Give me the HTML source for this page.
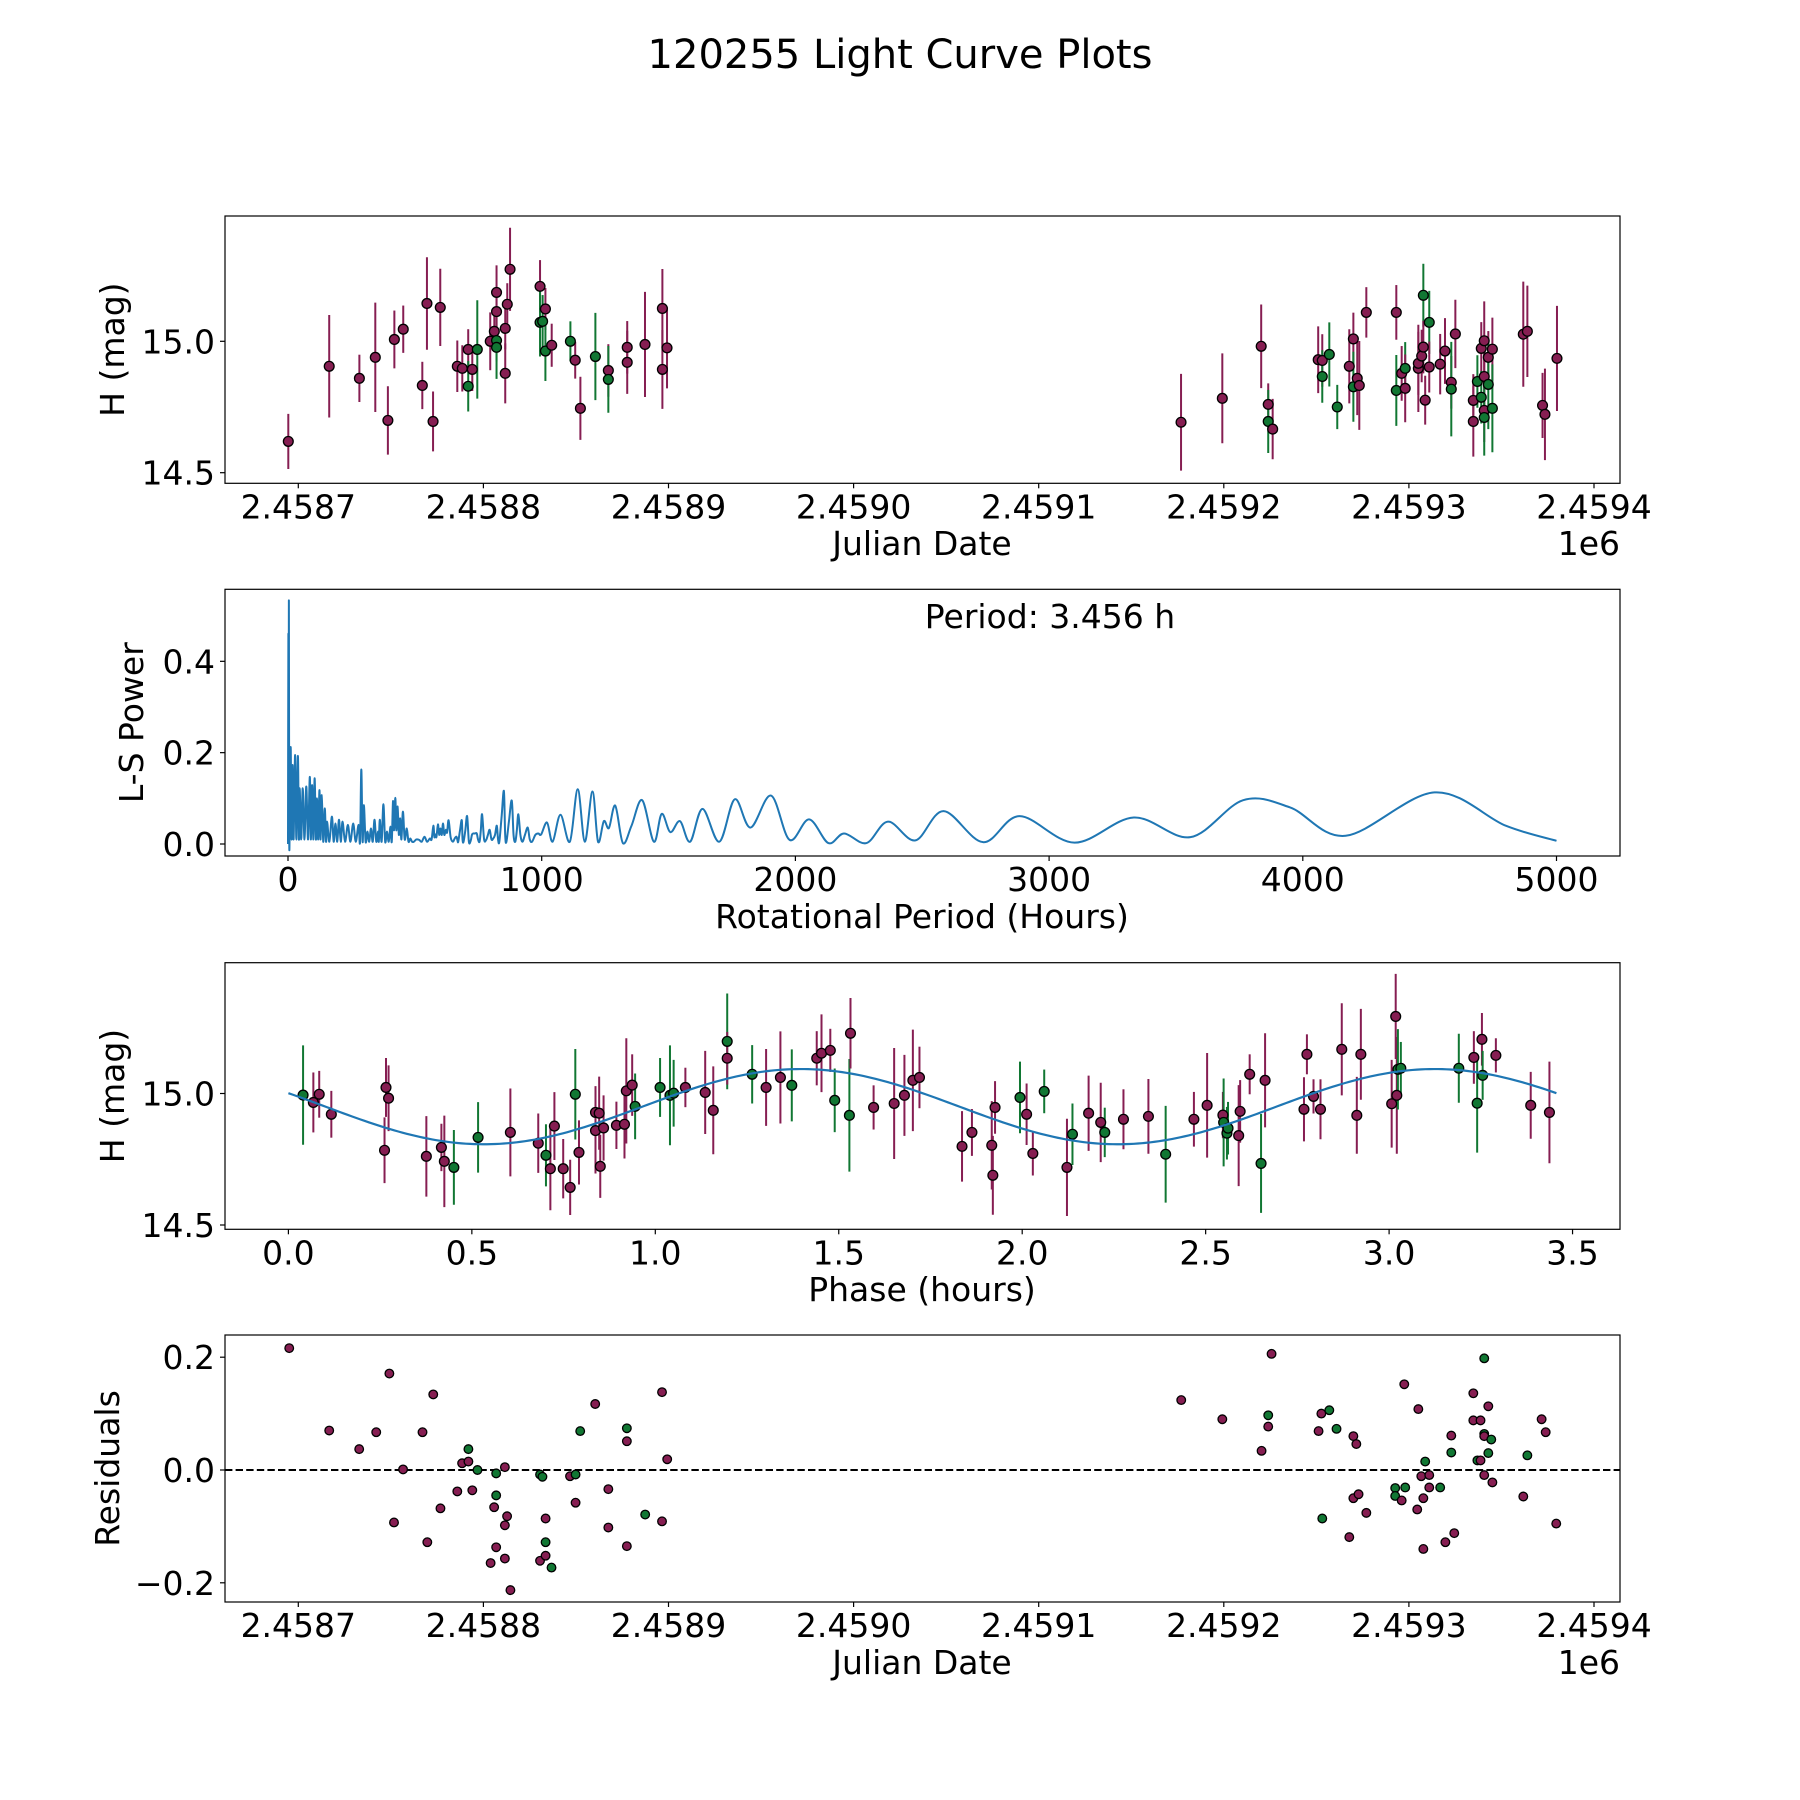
<!DOCTYPE html>
<html><head><meta charset="utf-8"><style>
html,body{margin:0;padding:0;background:#fff}
svg{display:block}
text{font-family:"DejaVu Sans","Liberation Sans",sans-serif;fill:#000}
</style></head><body>
<svg id="fig" width="1800" height="1800" viewBox="0 0 1800 1800" xmlns="http://www.w3.org/2000/svg">
<rect width="1800" height="1800" fill="#fff"/>
<text x="900" y="68" font-size="40" text-anchor="middle">120255 Light Curve Plots</text>
</svg>
<script>
// ---------- DATA ----------
const JD0 = 2458700;
// Panel 1: light curve (days since JD0, H mag, error, band)
const lcDays = [-5.4,16.7,33.0,41.6,48.4,51.9,56.7,67.0,69.5,72.8,76.7,85.9,88.6,91.8,91.8,94.0,96.7,103.7,105.9,107.1,107.1,107.1,107.1,111.8,111.8,112.9,114.4,130.6,130.6,132.0,133.5,133.5,136.9,147.0,149.6,152.4,160.5,167.5,167.5,177.7,177.7,187.3,196.7,196.7,199.2,
476.9,499.2,520.2,524.0,524.0,526.4,551.0,553.2,553.2,557.0,561.3,567.8,570.0,570.0,572.1,573.2,577.0,593.2,593.2,596.1,598.0,598.0,605.1,605.1,606.9,607.8,607.8,608.8,611.0,611.0,616.9,619.5,622.9,622.9,625.1,634.8,634.8,637.0,639.1,639.1,640.7,640.7,640.7,640.7,642.9,642.9,645.1,645.1,661.8,664.0,672.2,673.5,680.0];
const lcMags = [14.619,14.905,14.859,14.939,14.699,15.007,15.046,14.832,15.144,14.695,15.129,14.905,14.897,14.969,14.829,14.893,14.969,15.0,15.038,15.003,14.977,15.186,15.113,15.049,14.878,15.141,15.274,15.209,15.072,15.076,15.123,14.963,14.985,15.0,14.928,14.745,14.942,14.889,14.855,14.977,14.92,14.988,15.125,14.893,14.975,
14.692,14.783,14.981,14.76,14.695,14.666,14.93,14.927,14.866,14.95,14.75,14.905,15.009,14.827,14.859,14.832,15.11,15.11,14.813,14.878,14.897,14.821,14.897,14.916,14.944,15.175,14.978,14.776,15.072,14.902,14.913,14.963,14.844,14.818,15.028,14.775,14.695,14.847,14.973,14.787,15.002,14.866,14.737,14.71,14.939,14.836,14.97,14.745,15.027,15.038,14.756,14.722,14.935];
const lcErrs = [.105,.195,.09,.208,.13,.11,.09,.09,.176,.114,.147,.098,.088,.077,.096,.082,.187,.11,.06,.08,.12,.103,.09,.08,.114,.08,.158,.1,.13,.1,.08,.114,.082,.076,.07,.12,.166,.1,.127,.1,.12,.2,.15,.15,.154,
.184,.171,.159,.08,.12,.115,.127,.1,.1,.122,.084,.141,.1,.133,.14,.169,.096,.104,.135,.104,.1,.129,.166,.12,.1,.12,.1,.093,.12,.097,.115,.125,.1,.18,.13,.1,.134,.1,.1,.1,.15,.12,.12,.145,.1,.17,.12,.167,.2,.174,.124,.174,.2];
const lcBands = "mmmmmmmmmmmmmmgmgmmggmmmmmmmggmgmgmmgmgmmmmmm".slice(0,45) + "mmmmgmmmgggmmgmmmmgmgmmmmgmmgmmmmgmmmgmgmmmgmgmgmmmmmm".slice(0,53);
// Panel 2: Lomb-Scargle periodogram
const lsPeriods = [0,1.5,2.5,3.456,5,8,11,14,18,22,28,33,39,43,46,52,58,65,72,79,86,90,95,100,105,110,114,119,124,128,133,139,145,150,154,163,173,180,187,194,201,208,215,225,236,246,257,267,278,284,289,294,299,306,313,320,327,334,341,348,355,358,362,369,376,383,390,397,404,409,414,418,423,427,432,437,442,447,453,460,468,475,482,489,496,506,517,527,538,548,559,566,573,577,580,585,591,596,601,606,611,616,622,627,633,641,650,657,664,668,671,678,685,688,692,699,706,713,720,725,730,737,744,749,755,760,765,773,781,788,795,802,809,816,823,828,833,842,851,856,861,871,882,889,896,902,908,916,924,934,945,953,962,975,987,998,1021,1043,1074,1111,1142,1170,1200,1222,1245,1265,1290,1320,1354,1396,1442,1473,1507,1545,1585,1634,1700,1761,1823,1904,1977,2054,2130,2192,2280,2365,2473,2584,2740,2884,3100,3334,3557,3765,3950,4169,4519,4800,5000];
const lsPowers = [0,.46,.1,.533,0,.15,.206,.01,.173,.01,.195,.01,.193,.01,.122,.01,.122,.01,.126,.01,.147,.01,.129,.01,.144,.01,.1,.01,.118,.01,.107,.005,.078,.005,.049,.005,.06,.005,.045,.005,.053,.005,.049,.005,.042,.005,.045,.005,.042,.005,.163,.005,.085,.005,.027,.005,.034,.005,.053,.005,.027,.005,.053,.005,.087,.005,.027,.005,.038,.005,.094,.03,.101,.03,.082,.02,.056,.01,.071,.01,.034,.005,.012,.005,.005,.01,.009,.005,.016,.005,.012,.01,.04,.015,.021,.015,.043,.02,.034,.02,.045,.02,.031,.025,.052,.015,.005,.012,.016,.008,.005,.03,.052,.01,.005,.03,.061,.005,.007,.02,.023,.023,.023,.01,.005,.03,.065,.01,.009,.02,.031,.01,.012,.02,.04,.01,.005,.06,.116,.02,.005,.05,.095,.02,.005,.03,.065,.02,.005,.02,.036,.01,.005,.02,.023,.021,.047,.005,.064,.005,.12,.005,.115,.005,.05,.035,.084,.002,.04,.096,.005,.066,.026,.05,.005,.077,.005,.098,.036,.106,.009,.054,.002,.023,.002,.049,.008,.072,.004,.061,.003,.058,.015,.096,.08,.018,.113,.04,.007];
const bestPeriodLabel = "Period: 3.456 h";
// Panel 3: phased light curve
const phPhase = [.040,.068,.084,.117,.262,.266,.273,.376,.417,.425,.451,.517,.605,.681,.702,.714,.725,.749,.768,.782,.792,.837,.837,.847,.850,.859,.894,.916,.921,.937,.945,1.013,1.040,1.050,1.082,1.136,1.158,1.196,1.196,1.264,1.302,1.341,1.372,1.440,1.453,1.477,1.489,1.529,1.532,1.595,1.651,1.679,1.702,1.720,
1.836,1.863,1.917,1.920,1.926,1.994,2.012,2.029,2.060,2.122,2.137,2.181,2.214,2.225,2.276,2.344,2.391,2.468,2.504,2.547,2.549,2.558,2.561,2.590,2.594,2.620,2.651,2.662,2.768,2.776,2.794,2.813,2.871,2.912,2.923,3.007,3.018,3.021,3.024,3.032,3.190,3.231,3.240,3.253,3.255,3.291,3.386,3.437];
const phMags = [14.994,14.966,14.997,14.921,14.784,15.023,14.982,14.761,14.795,14.742,14.719,14.833,14.852,14.811,14.765,14.714,14.876,14.714,14.643,14.997,14.776,14.859,14.928,14.925,14.723,14.869,14.879,14.883,15.01,15.032,14.951,15.023,14.993,15.001,15.023,15.004,14.936,15.198,15.134,15.073,15.023,15.061,15.031,15.134,15.153,15.164,14.974,14.917,15.229,14.947,14.962,14.993,15.05,15.061,
14.799,14.852,14.803,14.689,14.947,14.985,14.921,14.772,15.008,14.719,14.845,14.925,14.89,14.852,14.902,14.913,14.769,14.902,14.955,14.918,14.89,14.849,14.868,14.84,14.932,15.073,14.734,15.05,14.94,15.149,14.989,14.94,15.168,14.917,15.149,14.961,15.293,14.993,15.092,15.096,15.096,15.137,14.963,15.206,15.069,15.145,14.955,14.928];
const phErrs = [.189,.114,.089,.089,.125,.112,.125,.153,.09,.174,.142,.134,.167,.113,.118,.158,.129,.113,.105,.172,.122,.163,.1,.139,.12,.124,.09,.13,.2,.117,.125,.112,.19,.127,.075,.158,.167,.182,.1,.111,.146,.175,.137,.103,.148,.082,.121,.214,.134,.084,.211,.154,.193,.117,
.134,.089,.168,.15,.1,.136,.117,.084,.083,.185,.117,.143,.151,.094,.114,.142,.184,.104,.199,.088,.167,.1,.1,.192,.119,.076,.188,.179,.122,.076,.065,.114,.175,.146,.173,.167,.162,.222,.153,.1,.131,.1,.188,.1,.093,.065,.127,.193];
const phBands = "gmmmmmmmmmggmmgmmmmgmmmmmmmmmmggggmmmgmgmmgmmmggmmmmmm" + "mmmmmgmmgmgmmgmmgmmmgggmmmgmmmmmmmmmmmgggmgmgmmmmm";
// Fitted model (two-peaked sinusoid)
const fitMean = 14.95, fitAmp = 0.143, fitHalfPeriod = 1.728, fitPeakPhase = 1.397, fitSpan = 3.456;
// Panel 4: residuals
const resDays = [-4.9,16.7,32.9,42.1,49.2,51.7,56.6,67.1,69.7,72.9,76.8,85.9,88.5,91.9,91.9,94.0,96.8,103.9,105.8,106.9,106.9,106.9,111.6,111.6,111.6,112.8,114.6,130.6,130.6,131.9,133.6,133.6,133.6,136.8,146.8,149.8,149.8,152.3,160.4,167.5,167.5,177.5,177.5,177.5,187.4,196.5,196.5,199.3,
477.0,499.2,520.4,524.0,524.0,525.8,551.2,552.7,553.2,557.0,560.9,567.8,570.0,570.0,571.6,572.8,577.0,592.6,592.6,596.1,597.5,598.0,604.5,605.1,606.7,607.8,607.8,608.8,611.0,611.0,616.9,619.7,622.9,622.9,624.5,634.8,634.8,637.0,638.7,638.7,640.7,640.7,640.7,640.7,642.9,642.9,644.5,645.1,661.8,664.0,671.7,673.9,679.6];
const resVals = [.216,.070,.037,.067,.171,-.093,.001,.067,-.128,.134,-.068,-.038,.012,.015,.037,-.036,0,-.165,-.066,-.045,-.137,-.006,.005,-.098,-.157,-.082,-.213,-.008,-.161,-.012,-.086,-.128,-.152,-.173,-.011,-.008,-.058,.069,.117,-.034,-.102,.074,.051,-.135,-.079,.138,-.091,.019,
.124,.090,.034,.097,.077,.206,.069,.10,-.086,.106,.073,-.119,.060,-.050,.046,-.043,-.076,-.032,-.046,-.054,.152,-.031,-.070,.108,-.011,-.050,-.140,.015,-.009,-.031,-.031,-.128,.061,.031,-.112,.136,.088,.017,.088,.017,.198,.064,.060,-.009,.113,.030,.054,-.022,-.047,.026,.090,.067,-.095];
const resBands = "mmmmmmmmmmmmmmgmgmmgmgmmmmmgmgmgmgmgmgmmmgmmgmmm".slice(0,48) + "mmmgmmmmgggmmmmmmggmmgmmmmmgmmgmmgmmmgmmggmmmggmmgmmmmmm".slice(0,53);
const tickJD = [2458700,2458800,2458900,2459000,2459100,2459200,2459300,2459400];
const tickJDLabels = ["2.4587","2.4588","2.4589","2.4590","2.4591","2.4592","2.4593","2.4594"];
const tickMag = [14.5,15.0], tickMagLabels = ["14.5","15.0"];
const tickPow = [0,0.2,0.4], tickPowLabels = ["0.0","0.2","0.4"];
const tickPer = [0,1000,2000,3000,4000,5000], tickPerLabels = ["0","1000","2000","3000","4000","5000"];
const tickPh = [0,0.5,1,1.5,2,2.5,3,3.5], tickPhLabels = ["0.0","0.5","1.0","1.5","2.0","2.5","3.0","3.5"];
const tickRes = [-0.2,0,0.2], tickResLabels = ["\u22120.2","0.0","0.2"];

// ---------- AXES ----------
const FS = 33;
const L = 225, R = 1620;
const P = [{t:216,b:483.3},{t:589.3,b:856},{t:962.7,b:1229.3},{t:1335,b:1602}];
const x1 = jd => 298.3 + (jd - JD0) * 1.851;
const y1 = m => 341.3 - (m - 15) * 262.8;
const x2 = h => 288 + h * 0.2537;
const y2 = p => 844 - p * 456.7;
const x3 = ph => 288.4 + ph * 366.9;
const y3 = m => 1093.5 - (m - 15) * 263;
const y4 = r => 1470 - r * 564;
const COL = {m:"#861e52", g:"#117733"};
const NS = "http://www.w3.org/2000/svg";
const svg = document.getElementById("fig");
function mk(tag, attrs, parent, txt){
  const e = document.createElementNS(NS, tag);
  for (const k in attrs) e.setAttribute(k, attrs[k]);
  if (txt !== undefined) e.textContent = txt;
  (parent || svg).appendChild(e);
  return e;
}
function clip(id, i){
  const cp = mk("clipPath", {id:id});
  mk("rect", {x:L, y:P[i].t, width:R-L, height:P[i].b-P[i].t}, cp);
}
function frame(i, name){
  const r = mk("rect", {x:L, y:P[i].t, width:R-L, height:P[i].b-P[i].t, fill:"none", stroke:"#000", "stroke-width":1.2});
  
  
}
function xticks(i, vals, labels, fx, name){
  const g = mk("g", {});
  
  
  vals.forEach((v, k) => {
    const x = fx(v);
    mk("line", {x1:x, x2:x, y1:P[i].b, y2:P[i].b + 5, stroke:"#000", "stroke-width":1.2}, g);
    const t = mk("text", {x:x, y:P[i].b + 35, "font-size":FS, "text-anchor":"middle"}, g, labels[k]);
    
    
  });
}
function yticks(i, vals, labels, fy, name){
  const g = mk("g", {});
  
  
  vals.forEach((v, k) => {
    const y = fy(v);
    mk("line", {x1:L - 5, x2:L, y1:y, y2:y, stroke:"#000", "stroke-width":1.2}, g);
    const t = mk("text", {x:L - 10, y:y + 12, "font-size":FS, "text-anchor":"end"}, g, labels[k]);
    
    
  });
}
function label(txt, x, y, rot, name){
  const t = mk("text", {x:0, y:0, "font-size":FS, "text-anchor":"middle",
    transform:"translate(" + x + "," + y + ")" + (rot ? " rotate(-90)" : "")}, svg, txt);
  
  
  return t;
}
function errpoints(gname, clipId, xs, ys, errs, bands, fx, fy, r){
  const g = mk("g", {"clip-path":"url(#" + clipId + ")"});
  
  
  if (errs) xs.forEach((v, k) => {
    const x = fx(v);
    const ln = mk("line", {x1:x, x2:x, y1:fy(ys[k] + errs[k]), y2:fy(ys[k] - errs[k]), stroke:COL[bands[k]], "stroke-width":2}, g);
    
    
  });
  xs.forEach((v, k) => {
    const c = mk("circle", {cx:fx(v), cy:fy(ys[k]), r:r, fill:COL[bands[k]], stroke:"#000", "stroke-width":1.3}, g);
    
    
  });
}
["c1","c2","c3","c4"].forEach((id, i) => clip(id, i));

// Panel 1
errpoints("light-curve-points", "c1", lcDays.map(d => d + JD0), lcMags, lcErrs, lcBands, x1, y1, 4.9);
frame(0, "light-curve-axes");
xticks(0, tickJD, tickJDLabels, x1, "light-curve");
yticks(0, tickMag, tickMagLabels, y1, "light-curve");
label("Julian Date", 922, 555, false, "light-curve-x-axis-title");
mk("text", {x:R, y:555, "font-size":FS, "text-anchor":"end",  }, svg, "1e6");
label("H (mag)", 124, (P[0].t + P[0].b) / 2, true, "light-curve-y-axis-title");

// Panel 2
(function(){
  const pts = lsPeriods.map((h, k) => [x2(h), y2(lsPowers[k])]);
  let d = "M" + pts[0][0].toFixed(2) + "," + pts[0][1].toFixed(2);
  for (let i = 0; i < pts.length - 1; i++){
    const p0 = pts[Math.max(i - 1, 0)], p1 = pts[i], p2 = pts[i + 1], p3 = pts[Math.min(i + 2, pts.length - 1)];
    const c1x = p1[0] + (p2[0] - p0[0]) / 6, c1y = p1[1] + (p2[1] - p0[1]) / 6;
    const c2x = p2[0] - (p3[0] - p1[0]) / 6, c2y = p2[1] - (p3[1] - p1[1]) / 6;
    d += "C" + c1x.toFixed(2) + "," + c1y.toFixed(2) + " " + c2x.toFixed(2) + "," + c2y.toFixed(2) + " " + p2[0].toFixed(2) + "," + p2[1].toFixed(2);
  }
  const path = mk("path", {d:d, fill:"none", stroke:"#1f77b4", "stroke-width":2, "stroke-linejoin":"round", "clip-path":"url(#c2)"});
  
  
})();
frame(1, "periodogram-axes");
xticks(1, tickPer, tickPerLabels, x2, "periodogram");
yticks(1, tickPow, tickPowLabels, y2, "periodogram");
label("Rotational Period (Hours)", 922, 928, false, "periodogram-x-axis-title");
label("L-S Power", 143, (P[1].t + P[1].b) / 2, true, "periodogram-y-axis-title");
mk("text", {x:1050, y:628, "font-size":FS, "text-anchor":"middle",  }, svg, bestPeriodLabel);

// Panel 3
errpoints("phased-points", "c3", phPhase, phMags, phErrs, phBands, x3, y3, 4.9);
(function(){
  let d = "";
  const n = 300;
  for (let i = 0; i <= n; i++){
    const ph = fitSpan * i / n;
    const m = fitMean + fitAmp * Math.cos(2 * Math.PI * (ph - fitPeakPhase) / fitHalfPeriod);
    d += (i ? "L" : "M") + x3(ph).toFixed(2) + "," + y3(m).toFixed(2);
  }
  const p = mk("path", {d:d, fill:"none", stroke:"#1f77b4", "stroke-width":2.2, "clip-path":"url(#c3)"});
  
  
})();
frame(2, "phased-axes");
xticks(2, tickPh, tickPhLabels, x3, "phased");
yticks(2, tickMag, tickMagLabels, y3, "phased");
label("Phase (hours)", 922, 1301, false, "phased-x-axis-title");
label("H (mag)", 124, (P[2].t + P[2].b) / 2, true, "phased-y-axis-title");

// Panel 4
(function(){
  const l = mk("line", {x1:L, x2:R, y1:y4(0), y2:y4(0), stroke:"#000", "stroke-width":2, "stroke-dasharray":"7.4,3.2"});
  
  
})();
errpoints("residual-points", "c4", resDays.map(d => d + JD0), resVals, null, resBands, x1, y4, 4.3);
frame(3, "residuals-axes");
xticks(3, tickJD, tickJDLabels, x1, "residuals");
yticks(3, tickRes, tickResLabels, y4, "residuals");
label("Julian Date", 922, 1674, false, "residuals-x-axis-title");
mk("text", {x:R, y:1674, "font-size":FS, "text-anchor":"end",  }, svg, "1e6");
label("Residuals", 119, (P[3].t + P[3].b) / 2, true, "residuals-y-axis-title");
</script>
</body></html>
